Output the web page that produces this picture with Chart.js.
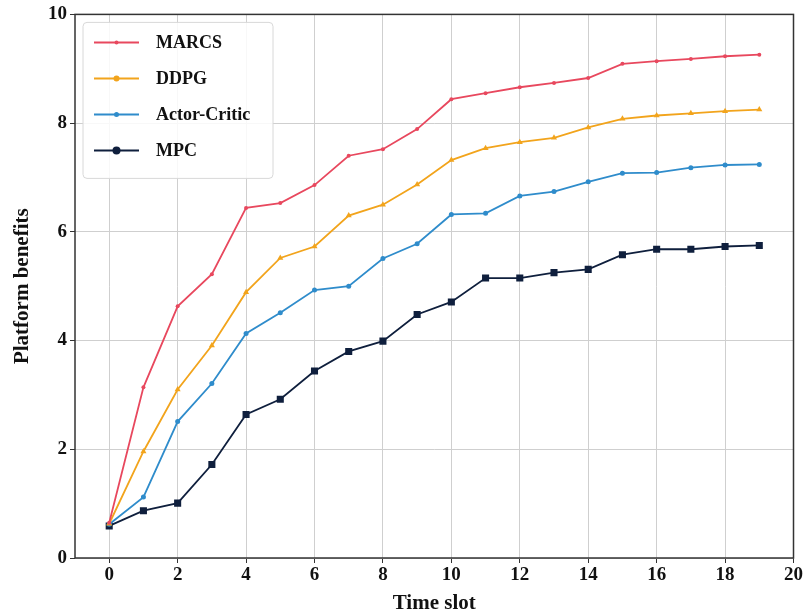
<!DOCTYPE html>
<html>
<head>
<meta charset="utf-8">
<script src="https://cdn.jsdelivr.net/npm/chart.js@4/dist/chart.umd.min.js"></script>
<style>
  html, body { margin: 0; padding: 0; background: #fff; }
  #wrap { width: 804px; height: 616px; }
</style>
</head>
<body>
<div id="wrap"><canvas id="chart" width="804" height="616"></canvas></div>
<script>
'use strict';

/* ── Data ──────────────────────────────────────────────────────────────── */
const timeSlots   = [0, 1, 2, 3, 4, 5, 6, 7, 8, 9, 10, 11, 12, 13, 14, 15, 16, 17, 18, 19];
const marcs       = [0.65, 3.14, 4.63, 5.22, 6.44, 6.53, 6.86, 7.40, 7.52, 7.89, 8.44, 8.55, 8.66, 8.74, 8.83, 9.09, 9.14, 9.18, 9.23, 9.26];
const ddpg        = [0.63, 1.96, 3.10, 3.91, 4.89, 5.52, 5.73, 6.30, 6.50, 6.87, 7.32, 7.54, 7.65, 7.73, 7.92, 8.08, 8.14, 8.18, 8.22, 8.25];
const actorCritic = [0.62, 1.12, 2.51, 3.21, 4.13, 4.51, 4.93, 5.00, 5.51, 5.78, 6.32, 6.34, 6.66, 6.74, 6.92, 7.08, 7.09, 7.18, 7.23, 7.24];
const mpc         = [0.59, 0.87, 1.01, 1.72, 2.64, 2.92, 3.44, 3.80, 3.99, 4.48, 4.71, 5.15, 5.15, 5.25, 5.31, 5.58, 5.68, 5.68, 5.73, 5.75];
const xTicks      = [0, 2, 4, 6, 8, 10, 12, 14, 16, 18, 20];
const yTicks      = [0, 2, 4, 6, 8, 10];

const COLORS = {
    marcs: '#e8485e',
    ddpg: '#f2a41c',
    actor: '#2f8ccb',
    mpc: '#0f1f3d',
    grid: '#cfcfcf',
    frame: '#333333',
};

const FONT = "'Liberation Serif', 'Times New Roman', serif";

const toPoints = arr => arr.map((v, i) => ({ x: timeSlots[i], y: v }));

/* ── Frame around the plot (matplotlib style box) ──────────────────────── */
const framePlugin = {
    id: 'frame',
    afterDatasetsDraw(chart) {
        const { ctx, chartArea: a } = chart;
        ctx.save();
        ctx.strokeStyle = COLORS.frame;
        ctx.lineWidth = 1.5;
        ctx.strokeRect(a.left, a.top, a.right - a.left, a.bottom - a.top);
        ctx.restore();
    },
};

/* ── Legend drawn inside the plot, line + marker samples ───────────────── */
const insideLegend = {
    id: 'insideLegend',
    afterDraw(chart) {
        const { ctx, chartArea: a } = chart;
        const sets = chart.data.datasets;
        const x0 = a.left + 8, y0 = a.top + 8;
        const w = 190, rowH = 36, h = rowH * sets.length + 12;
        ctx.save();
        ctx.fillStyle = 'rgba(255,255,255,0.85)';
        ctx.strokeStyle = '#d8d8d8';
        ctx.lineWidth = 1;
        ctx.beginPath();
        ctx.roundRect(x0, y0, w, h, 4);
        ctx.fill();
        ctx.stroke();
        sets.forEach((ds, i) => {
            const cy = y0 + 20 + i * rowH;
            ctx.strokeStyle = ds.borderColor;
            ctx.lineWidth = 2;
            ctx.beginPath();
            ctx.moveTo(x0 + 11, cy);
            ctx.lineTo(x0 + 56, cy);
            ctx.stroke();
            ctx.fillStyle = ds.borderColor;
            ctx.beginPath();
            ctx.arc(x0 + 33.5, cy, ds.legendDot, 0, Math.PI * 2);
            ctx.fill();
            ctx.fillStyle = '#111';
            ctx.font = `bold 18px ${FONT}`;
            ctx.textBaseline = 'middle';
            ctx.fillText(ds.label, x0 + 73, cy + 1);
        });
        ctx.restore();
    },
};

const datasets = [
    { label: 'MARCS', data: toPoints(marcs), borderColor: COLORS.marcs, backgroundColor: COLORS.marcs,
      pointStyle: 'circle', pointRadius: 2, legendDot: 2 },
    { label: 'DDPG', data: toPoints(ddpg), borderColor: COLORS.ddpg, backgroundColor: COLORS.ddpg,
      pointStyle: 'triangle', pointRadius: 3.5, legendDot: 3 },
    { label: 'Actor-Critic', data: toPoints(actorCritic), borderColor: COLORS.actor, backgroundColor: COLORS.actor,
      pointStyle: 'circle', pointRadius: 2.5, legendDot: 2.5 },
    { label: 'MPC', data: toPoints(mpc), borderColor: COLORS.mpc, backgroundColor: COLORS.mpc,
      pointStyle: 'rect', pointRadius: 5, legendDot: 4 },
].map(d => Object.assign({ borderWidth: 1.8, tension: 0, fill: false, pointBorderWidth: 0 }, d));

new Chart(document.getElementById('chart').getContext('2d'), {
    type: 'line',
    data: { datasets },
    options: {
        responsive: false,
        animation: false,
        layout: { padding: { top: 14, right: 10, bottom: 0, left: 10 } },
        plugins: {
            legend: { display: false },
            tooltip: { enabled: false },
        },
        scales: {
            x: {
                type: 'linear',
                min: -1,
                max: 20,
                afterBuildTicks: s => { s.ticks = xTicks.map(v => ({ value: v })); },
                afterFit: s => { s.height = 58; },
                grid: { color: COLORS.grid, lineWidth: 1, drawTicks: true, tickLength: 5, tickColor: COLORS.frame },
                border: { display: false },
                ticks: { color: '#111', font: { family: FONT, size: 19, weight: 'bold' }, padding: 1, maxRotation: 0 },
                title: { display: true, text: 'Time slot', color: '#111', padding: { top: 0, bottom: 0 },
                         font: { family: FONT, size: 21, weight: 'bold' } },
            },
            y: {
                min: 0,
                max: 10,
                afterBuildTicks: s => { s.ticks = yTicks.map(v => ({ value: v })); },
                afterFit: s => { s.width = 65; },
                grid: { color: COLORS.grid, lineWidth: 1, drawTicks: true, tickLength: 5, tickColor: COLORS.frame },
                border: { display: false },
                ticks: { color: '#111', font: { family: FONT, size: 19, weight: 'bold' }, padding: 3 },
                title: { display: true, text: 'Platform benefits', color: '#111', padding: { top: 0, bottom: 4 },
                         font: { family: FONT, size: 21, weight: 'bold' } },
            },
        },
    },
    plugins: [framePlugin, insideLegend],
});
</script>
</body>
</html>
